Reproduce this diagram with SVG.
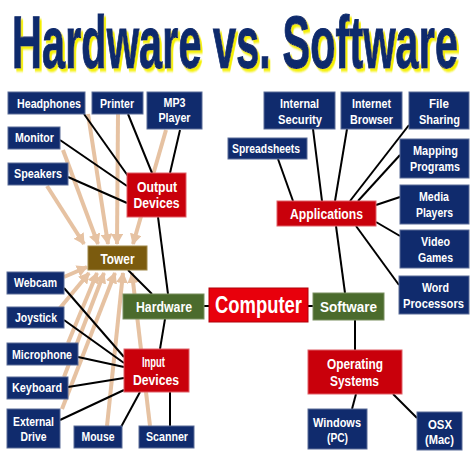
<svg xmlns="http://www.w3.org/2000/svg" width="474" height="457" viewBox="0 0 474 457">
<style>
.n{fill:#102b6d;stroke:#5a6c98;stroke-width:1}
.r{fill:#c9000b;stroke:#e06068;stroke-width:1}
.c{fill:#e8000c;stroke:#b00008;stroke-width:1}
.g{fill:#4b6b2d;stroke:#7a9060;stroke-width:1}
.tw{fill:#7b5b0e;stroke:#a08848;stroke-width:1}
text{font-family:"Liberation Sans",Arial,sans-serif;font-weight:bold;fill:#fff;text-anchor:middle}
.s{font-size:12.5px}
.m{font-size:14px}
.k{stroke:#000;stroke-width:2;fill:none}
.a{stroke:#e6c2a2;stroke-width:4;fill:none}
</style>
<defs>
<marker id="ah" markerUnits="userSpaceOnUse" markerWidth="12" markerHeight="12" refX="10" refY="6" orient="auto">
<path d="M0,0 L11,6 L0,12 Z" fill="#e6c2a2"/>
</marker>
<filter id="sh" x="-3%" y="-10%" width="108%" height="130%">
<feOffset in="SourceAlpha" dx="3.6" dy="3" result="o"/>
<feGaussianBlur in="o" stdDeviation="0.8" result="b"/>
<feFlood flood-color="#f5f000"/>
<feComposite in2="b" operator="in" result="y"/>
<feMerge><feMergeNode in="y"/><feMergeNode in="SourceGraphic"/></feMerge>
</filter>
</defs>

<g id="title" transform="scale(0.562,1)">
<text x="418.2" y="68" font-size="74" style="fill:#0e2a6c;stroke:#0e2a6c;stroke-width:1.2;font-weight:bold" filter="url(#sh)">Hardware vs. Software</text>
</g>

<g id="connectors">
<g id="arrows">
<line class="a" x1="47" y1="186" x2="84" y2="244" marker-end="url(#ah)"/>
<line class="a" x1="63" y1="150" x2="98" y2="244" marker-end="url(#ah)"/>
<line class="a" x1="88" y1="114" x2="108" y2="244" marker-end="url(#ah)"/>
<line class="a" x1="118" y1="114" x2="117" y2="244" marker-end="url(#ah)"/>
<line class="a" x1="166" y1="130" x2="133" y2="244" marker-end="url(#ah)"/>
<line class="a" x1="64" y1="277" x2="87" y2="267" marker-end="url(#ah)"/>
<line class="a" x1="60" y1="308" x2="89" y2="273" marker-end="url(#ah)"/>
<line class="a" x1="68" y1="343" x2="97" y2="273" marker-end="url(#ah)"/>
<line class="a" x1="64" y1="377" x2="104" y2="273" marker-end="url(#ah)"/>
<line class="a" x1="62" y1="409" x2="115" y2="273" marker-end="url(#ah)"/>
<line class="a" x1="107" y1="426" x2="123" y2="273" marker-end="url(#ah)"/>
<line class="a" x1="150" y1="426" x2="132" y2="273" marker-end="url(#ah)"/>
</g>
<g id="lines">
<line class="k" x1="84" y1="114" x2="128" y2="176"/>
<line class="k" x1="128" y1="114" x2="152" y2="173"/>
<line class="k" x1="180" y1="130" x2="170" y2="173"/>
<line class="k" x1="60" y1="140" x2="127" y2="186"/>
<line class="k" x1="68" y1="177" x2="127" y2="203"/>
<line class="k" x1="158" y1="217" x2="168" y2="294"/>
<line class="k" x1="128" y1="270" x2="152" y2="294"/>
<line class="k" x1="165" y1="319" x2="160" y2="349"/>
<line class="k" x1="64" y1="288" x2="124" y2="357"/>
<line class="k" x1="64" y1="320" x2="124" y2="363"/>
<line class="k" x1="78" y1="357" x2="124" y2="367"/>
<line class="k" x1="68" y1="387" x2="124" y2="378"/>
<line class="k" x1="60" y1="420" x2="124" y2="390"/>
<line class="k" x1="121" y1="427" x2="140" y2="392"/>
<line class="k" x1="170" y1="426" x2="170" y2="392"/>
<line class="k" x1="204" y1="306" x2="209" y2="306"/>
<line class="k" x1="308" y1="306" x2="313" y2="306"/>
<line class="k" x1="345" y1="293" x2="336" y2="226"/>
<line class="k" x1="278" y1="159" x2="293" y2="201"/>
<line class="k" x1="313" y1="129" x2="322" y2="201"/>
<line class="k" x1="347" y1="129" x2="335" y2="201"/>
<line class="k" x1="409" y1="125" x2="350" y2="201"/>
<line class="k" x1="400" y1="155" x2="358" y2="201"/>
<line class="k" x1="376" y1="205" x2="400" y2="197"/>
<line class="k" x1="376" y1="222" x2="400" y2="236"/>
<line class="k" x1="356" y1="226" x2="399" y2="285"/>
<line class="k" x1="355" y1="320" x2="355" y2="350"/>
<line class="k" x1="356" y1="394" x2="352" y2="409"/>
<line class="k" x1="393" y1="394" x2="417" y2="418"/>
</g>
</g>

<g id="headphones"><rect class="n" x="8" y="92" width="77" height="22"/><text class="s" x="49" y="107.5" textLength="64" lengthAdjust="spacingAndGlyphs">Headphones</text></g>
<g id="printer"><rect class="n" x="92" y="92" width="51" height="22"/><text class="s" x="117" y="107.5" textLength="34" lengthAdjust="spacingAndGlyphs">Printer</text></g>
<g id="mp3"><rect class="n" x="147" y="92" width="55" height="37"/><text class="s" x="174.5" y="107" textLength="22" lengthAdjust="spacingAndGlyphs">MP3</text><text class="s" x="174.5" y="122" textLength="32" lengthAdjust="spacingAndGlyphs">Player</text></g>
<g id="monitor"><rect class="n" x="8" y="127" width="52" height="22"/><text class="s" x="34.5" y="142" textLength="39" lengthAdjust="spacingAndGlyphs">Monitor</text></g>
<g id="speakers"><rect class="n" x="8" y="163" width="60" height="22"/><text class="s" x="38" y="178" textLength="48" lengthAdjust="spacingAndGlyphs">Speakers</text></g>
<g id="output"><rect class="r" x="127" y="173" width="59" height="44"/><text class="m" x="157" y="191.5" textLength="40" lengthAdjust="spacingAndGlyphs">Output</text><text class="m" x="156.5" y="208" textLength="46" lengthAdjust="spacingAndGlyphs">Devices</text></g>
<g id="tower"><rect class="tw" x="88" y="246" width="59" height="24"/><text class="m" x="117.5" y="263.5" textLength="34" lengthAdjust="spacingAndGlyphs">Tower</text></g>
<g id="webcam"><rect class="n" x="7" y="272" width="57" height="22"/><text class="s" x="35.5" y="287" textLength="43" lengthAdjust="spacingAndGlyphs">Webcam</text></g>
<g id="joystick"><rect class="n" x="7" y="307" width="57" height="21"/><text class="s" x="36" y="321.5" textLength="42" lengthAdjust="spacingAndGlyphs">Joystick</text></g>
<g id="microphone"><rect class="n" x="7" y="343" width="71" height="22"/><text class="s" x="42" y="358.5" textLength="60" lengthAdjust="spacingAndGlyphs">Microphone</text></g>
<g id="keyboard"><rect class="n" x="7" y="377" width="61" height="22"/><text class="s" x="37" y="392" textLength="50" lengthAdjust="spacingAndGlyphs">Keyboard</text></g>
<g id="external"><rect class="n" x="7" y="409" width="53" height="39"/><text class="s" x="33.5" y="425.5" textLength="41" lengthAdjust="spacingAndGlyphs">External</text><text class="s" x="33.5" y="441" textLength="26" lengthAdjust="spacingAndGlyphs">Drive</text></g>
<g id="mouse"><rect class="n" x="74" y="426" width="48" height="22"/><text class="s" x="98" y="441" textLength="33" lengthAdjust="spacingAndGlyphs">Mouse</text></g>
<g id="scanner"><rect class="n" x="139" y="426" width="55" height="22"/><text class="s" x="167" y="441" textLength="42" lengthAdjust="spacingAndGlyphs">Scanner</text></g>
<g id="hardware"><rect class="g" x="123" y="294" width="81" height="25"/><text class="m" x="164" y="312" textLength="56" lengthAdjust="spacingAndGlyphs">Hardware</text></g>
<g id="input"><rect class="r" x="124" y="349" width="65" height="43"/><text class="m" x="153.5" y="367" textLength="23" lengthAdjust="spacingAndGlyphs">Input</text><text class="m" x="156" y="385" textLength="46" lengthAdjust="spacingAndGlyphs">Devices</text></g>
<g id="computer"><rect class="c" x="209" y="288" width="99" height="34"/><text x="258.5" y="313" font-size="23" textLength="87" lengthAdjust="spacingAndGlyphs">Computer</text></g>
<g id="software"><rect class="g" x="313" y="293" width="71" height="27"/><text class="m" x="348.5" y="312" textLength="57" lengthAdjust="spacingAndGlyphs">Software</text></g>
<g id="applications"><rect class="r" x="277" y="201" width="99" height="25"/><text class="m" x="326.5" y="218.5" textLength="73" lengthAdjust="spacingAndGlyphs">Applications</text></g>
<g id="os"><rect class="r" x="308" y="350" width="94" height="44"/><text class="m" x="355" y="369" textLength="56" lengthAdjust="spacingAndGlyphs">Operating</text><text class="m" x="354.5" y="385.5" textLength="49" lengthAdjust="spacingAndGlyphs">Systems</text></g>
<g id="windows"><rect class="n" x="308" y="409" width="59" height="40"/><text class="s" x="337" y="426.5" textLength="48" lengthAdjust="spacingAndGlyphs">Windows</text><text class="s" x="337.5" y="442" textLength="21" lengthAdjust="spacingAndGlyphs">(PC)</text></g>
<g id="osx"><rect class="n" x="417" y="412" width="45" height="38"/><text class="s" x="440" y="429" textLength="24" lengthAdjust="spacingAndGlyphs">OSX</text><text class="s" x="439.5" y="444" textLength="29" lengthAdjust="spacingAndGlyphs">(Mac)</text></g>
<g id="word"><rect class="n" x="399" y="276" width="70" height="38"/><text class="s" x="435.5" y="292" textLength="27" lengthAdjust="spacingAndGlyphs">Word</text><text class="s" x="433.5" y="308" textLength="61" lengthAdjust="spacingAndGlyphs">Processors</text></g>
<g id="internal"><rect class="n" x="264" y="92" width="71" height="37"/><text class="s" x="299.5" y="108" textLength="39" lengthAdjust="spacingAndGlyphs">Internal</text><text class="s" x="300" y="124" textLength="44" lengthAdjust="spacingAndGlyphs">Security</text></g>
<g id="browser"><rect class="n" x="341" y="92" width="61" height="37"/><text class="s" x="371.5" y="108" textLength="39" lengthAdjust="spacingAndGlyphs">Internet</text><text class="s" x="371.5" y="124" textLength="43" lengthAdjust="spacingAndGlyphs">Browser</text></g>
<g id="filesharing"><rect class="n" x="409" y="92" width="60" height="37"/><text class="s" x="439" y="108" textLength="20" lengthAdjust="spacingAndGlyphs">File</text><text class="s" x="439.5" y="124" textLength="41" lengthAdjust="spacingAndGlyphs">Sharing</text></g>
<g id="spreadsheets"><rect class="n" x="228" y="138" width="79" height="21"/><text class="s" x="266" y="152.5" textLength="68" lengthAdjust="spacingAndGlyphs">Spreadsheets</text></g>
<g id="mapping"><rect class="n" x="400" y="139" width="69" height="39"/><text class="s" x="435.5" y="155" textLength="45" lengthAdjust="spacingAndGlyphs">Mapping</text><text class="s" x="435" y="171" textLength="50" lengthAdjust="spacingAndGlyphs">Programs</text></g>
<g id="media"><rect class="n" x="400" y="185" width="69" height="39"/><text class="s" x="434" y="201" textLength="30" lengthAdjust="spacingAndGlyphs">Media</text><text class="s" x="434.5" y="217" textLength="37" lengthAdjust="spacingAndGlyphs">Players</text></g>
<g id="video"><rect class="n" x="400" y="230" width="69" height="38"/><text class="s" x="435.5" y="246" textLength="29" lengthAdjust="spacingAndGlyphs">Video</text><text class="s" x="435.5" y="262" textLength="35" lengthAdjust="spacingAndGlyphs">Games</text></g>
</svg>
